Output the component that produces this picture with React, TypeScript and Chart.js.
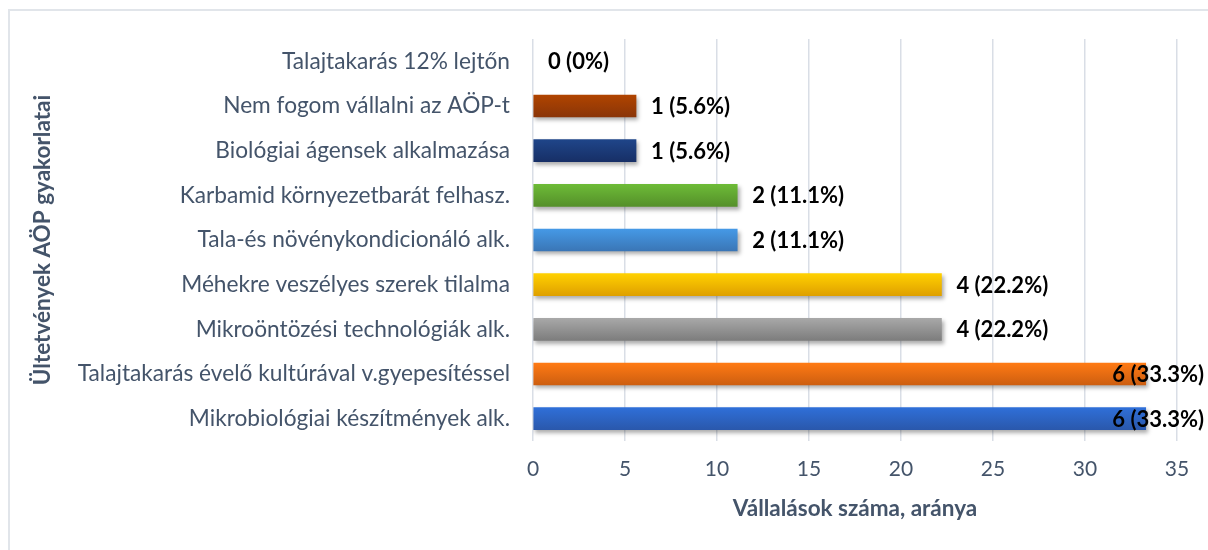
import React, { useEffect, useRef } from "react";
import { Chart, registerables } from "chart.js";

Chart.register(...registerables);

const categories = [
  "Talajtakarás 12% lejtőn",
  "Nem fogom vállalni az AÖP-t",
  "Biológiai ágensek alkalmazása",
  "Karbamid környezetbarát felhasz.",
  "Tala-és növénykondicionáló alk.",
  "Méhekre veszélyes szerek tilalma",
  "Mikroöntözési technológiák alk.",
  "Talajtakarás évelő kultúrával v.gyepesítéssel",
  "Mikrobiológiai készítmények alk.",
];
const counts = [0, 1, 1, 2, 2, 4, 4, 6, 6];
const percents = [0, 5.6, 5.6, 11.1, 11.1, 22.2, 22.2, 33.3, 33.3];
const topColors = ["#B04400", "#B04400", "#1F4589", "#6DBB37", "#4599E6", "#FFD000", "#A8A8A8", "#FF7A14", "#2F6FD8"];
const bottomColors = ["#8A3508", "#8A3508", "#172F66", "#55902A", "#3A76B6", "#DFA000", "#7D7D7D", "#CD5E10", "#2A58AC"];
const xTicks = [0, 5, 10, 15, 20, 25, 30, 35];

const FONT = "Lato, 'Open Sans', sans-serif";
const TEXT = "#44546A";
const GRID = "#D9DEE6";
const BAR_H = 22;

const shadowPlugin = {
  id: "barShadow",
  beforeDatasetsDraw(chart: any) {
    const c = chart.ctx;
    c.save();
    c.shadowColor = "rgba(0,0,0,0.32)";
    c.shadowOffsetX = 2;
    c.shadowOffsetY = 3;
    c.shadowBlur = 4;
  },
  afterDatasetsDraw(chart: any) {
    chart.ctx.restore();
    const c = chart.ctx;
    const meta = chart.getDatasetMeta(0);
    c.save();
    c.font = "bold 22px " + FONT;
    c.fillStyle = "#000000";
    c.textBaseline = "middle";
    c.textAlign = "left";
    meta.data.forEach((bar: any, i: number) => {
      const label = counts[i] + " (" + percents[i] + "%)";
      const w = c.measureText(label).width;
      let x = bar.x + 15;
      if (x + w > chart.width - 4) x = chart.width - 4 - w;
      c.fillText(label, x, bar.y + 1);
    });
    c.restore();
  },
};

export default function App() {
  const ref = useRef<HTMLCanvasElement>(null);
  useEffect(() => {
    const canvas = ref.current!;
    const chart = new Chart(canvas, {
      type: "bar",
      data: {
        labels: categories,
        datasets: [
          {
            data: percents,
            barThickness: BAR_H,
            borderWidth: 0,
            backgroundColor: (ctx: any) => {
              const i = ctx.dataIndex ?? 0;
              if (percents[i] === 0) return "rgba(0,0,0,0)";
              const yScale = ctx.chart.scales?.y;
              if (!yScale || ctx.type !== "data") return topColors[i];
              const yc = yScale.getPixelForValue(i);
              if (!Number.isFinite(yc)) return topColors[i];
              const g = ctx.chart.ctx.createLinearGradient(0, yc - BAR_H / 2, 0, yc + BAR_H / 2);
              g.addColorStop(0, topColors[i]);
              g.addColorStop(1, bottomColors[i]);
              return g;
            },
          },
        ],
      },
      options: {
        indexAxis: "y",
        animation: false,
        responsive: false,
        maintainAspectRatio: false,
        layout: { padding: { left: 29, right: 31, top: 39, bottom: 24 } },
        plugins: { legend: { display: false }, tooltip: { enabled: false } },
        scales: {
          x: {
            min: 0,
            max: 35,
            afterBuildTicks: (s: any) => {
              s.ticks = xTicks.map((v) => ({ value: v }));
            },
            afterFit: (s: any) => {
              s.height = 85;
            },
            grid: { color: GRID, lineWidth: 1.5, drawTicks: false },
            border: { display: false },
            ticks: { color: TEXT, font: { family: FONT, size: 21 }, padding: 16 },
            title: {
              display: true,
              text: "Vállalások száma, aránya",
              color: TEXT,
              font: { family: FONT, size: 22.5, weight: "bold" },
              padding: { top: 0, bottom: 4 },
            },
          },
          y: {
            afterFit: (s: any) => {
              s.width = 504;
            },
            grid: { display: false, drawTicks: false },
            border: { display: false },
            ticks: { color: TEXT, font: { family: FONT, size: 22.7 }, padding: 23 },
            title: {
              display: true,
              text: "Ültetvények AÖP gyakorlatai",
              color: TEXT,
              font: { family: FONT, size: 22.5, weight: "bold" },
              padding: 0,
            },
          },
        },
      } as any,
      plugins: [shadowPlugin],
    });
    return () => chart.destroy();
  }, []);

  return (
    <div style={{ position: "absolute", left: 0, top: 0, width: 1208, height: 550, overflow: "hidden", background: "#fff" }}>
      <div
        style={{
          position: "absolute",
          left: 8,
          top: 9,
          width: 1400,
          height: 800,
          borderLeft: "2px solid #E1E5EA",
          borderTop: "2px solid #E1E5EA",
        }}
      />
      <canvas ref={ref} width={1208} height={550} style={{ position: "absolute", left: 0, top: 0, display: "block" }} />
    </div>
  );
}
